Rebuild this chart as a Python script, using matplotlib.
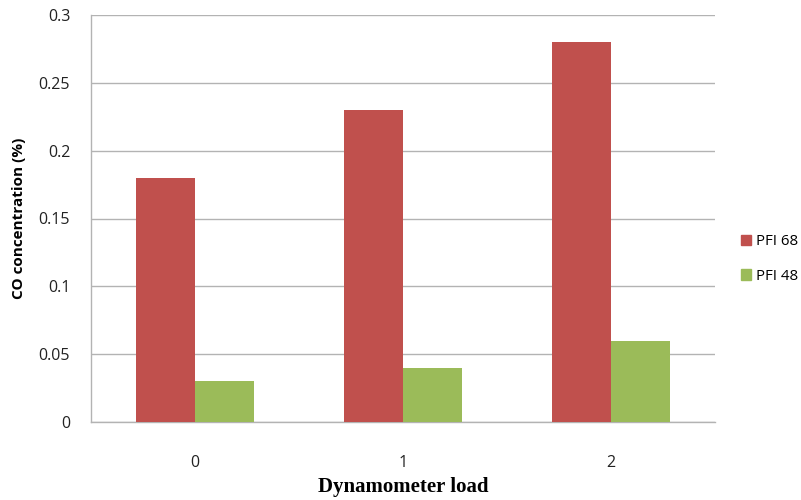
import matplotlib
matplotlib.use("Agg")
from matplotlib import pyplot as plt
from matplotlib.patches import Patch
import numpy as np

loads = ["0", "1", "2"]
pfi68 = [0.18, 0.23, 0.28]
pfi48 = [0.03, 0.04, 0.06]
yticks = [0, 0.05, 0.1, 0.15, 0.2, 0.25, 0.3]
ytick_labels = ["0", "0.05", "0.1", "0.15", "0.2", "0.25", "0.3"]

red = "#C0504D"
green = "#9BBB59"
grid = "#B3B3B3"

fig = plt.figure(figsize=(8.01, 5), dpi=100)
ax = fig.add_axes([0.1136, 0.156, 0.779, 0.814])

x = np.arange(len(loads))
w = 0.285
ax.bar(x - w / 2, pfi68, w, color=red, zorder=3)
ax.bar(x + w / 2, pfi48, w, color=green, zorder=3)

ax.set_xlim(-0.5, 2.5)
ax.set_ylim(0, 0.3)
ax.set_yticks(yticks)
ax.set_yticklabels(ytick_labels)
ax.set_xticks(x)
ax.set_xticklabels(loads)
ax.tick_params(length=0, labelsize=11.5, colors="#222222", labelfontfamily="Open Sans")
ax.tick_params(axis="y", pad=15)
ax.tick_params(axis="x", pad=24)
ax.yaxis.grid(True, color=grid, linewidth=1, zorder=0)

for side in ["top", "right"]:
    ax.spines[side].set_visible(False)
for side in ["left", "bottom"]:
    ax.spines[side].set_color(grid)
    ax.spines[side].set_linewidth(1)

ax.set_ylabel("CO concentration (%)", fontsize=11, fontweight="bold",
              fontfamily="Open Sans", labelpad=9)
# x label sits close to the bottom edge, so place it in figure coords
fig.text(0.503, 0.026, "Dynamometer load", fontsize=15, fontweight="bold",
         fontfamily="Liberation Serif", ha="center", va="center")

handles = [Patch(color=red, label="PFI 68"), Patch(color=green, label="PFI 48")]
fig.legend(handles=handles, loc="center left", bbox_to_anchor=(0.917, 0.482),
           frameon=False, prop={"family": "Open Sans", "size": 10.8},
           handlelength=0.7, handleheight=0.7, handletextpad=0.35,
           labelspacing=1.3, borderaxespad=0)

fig.savefig("out.png", dpi=100)
